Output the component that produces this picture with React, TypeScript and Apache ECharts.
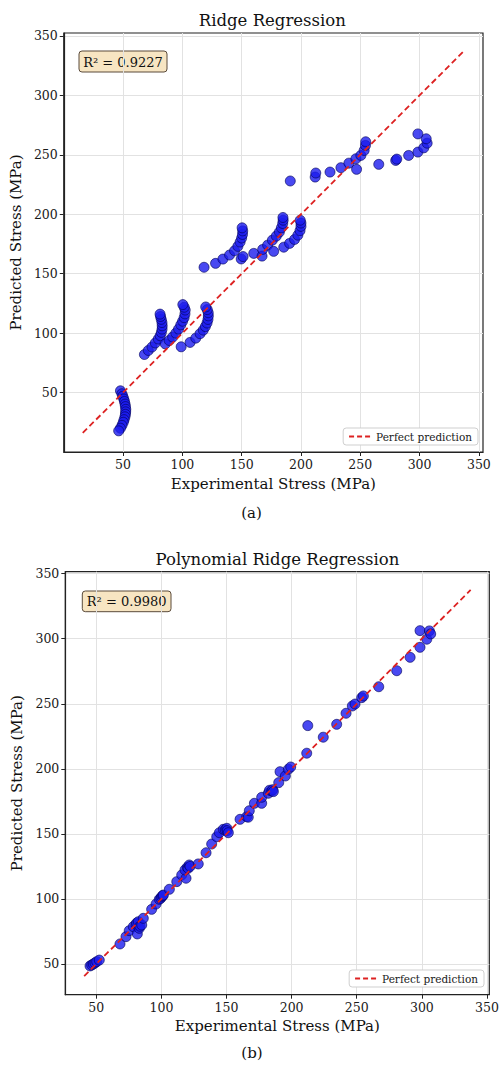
import React, { useEffect, useRef } from "react";
import * as echarts from "echarts";

// ---------- Data ----------
const ridgeActual = [
  47.8, 49.0, 49.8, 50.6, 51.2, 51.7, 52.0, 52.3, 52.2, 52.0, 51.6, 50.9, 50.2, 49.1, 47.8, 46.3,
  68.0, 71.3, 74.4, 77.2, 79.7, 81.3, 82.3, 82.9, 83.0, 82.8, 82.2, 81.6, 81.2,
  85.6, 88.9, 91.8, 94.5, 96.8, 98.7, 100.2, 101.5, 102.2, 102.4, 101.6, 100.4, 99.0,
  106.5, 111.3, 114.9, 117.6, 119.4, 120.8, 121.6, 121.9, 121.8, 121.0, 119.7,
  118.3, 128.0, 134.2, 139.8, 144.0, 146.8, 148.7, 150.0, 150.7, 150.9, 150.4, 149.6, 151.2,
  160.2, 167.2, 167.7, 171.9, 177.0, 175.9, 179.2, 181.8, 183.5, 184.6, 185.0, 184.8,
  185.5, 190.4, 194.6, 197.4, 199.2, 200.0, 200.0, 199.4, 191.0,
  212.0, 212.5, 224.5, 233.7, 240.4, 246.9, 246.3, 250.5, 253.3, 254.4, 254.6, 265.6, 279.9, 280.8,
  290.8, 298.6, 303.6, 306.4, 305.6, 298.6,
];
const ridgePredicted = [
  51.5, 49.0, 46.9, 44.6, 42.5, 40.3, 38.2, 35.9, 33.8, 31.7, 29.6, 27.2, 25.0, 22.4, 20.0, 17.8,
  82.0, 85.4, 88.3, 91.7, 95.0, 97.8, 100.6, 103.4, 106.2, 108.9, 111.6, 114.0, 116.0,
  91.0, 93.8, 96.7, 100.0, 103.4, 107.0, 110.0, 113.0, 116.2, 119.4, 121.8, 124.0, 88.5,
  92.2, 95.8, 99.5, 102.5, 105.5, 108.5, 111.5, 114.5, 117.2, 119.8, 122.0,
  155.4, 158.7, 162.3, 165.7, 169.3, 173.0, 176.6, 180.0, 183.0, 186.0, 188.6, 162.4, 164.4,
  167.1, 164.8, 170.4, 174.0, 168.8, 178.2, 181.6, 185.0, 188.6, 192.2, 195.0, 197.3,
  172.3, 175.5, 178.8, 182.4, 186.2, 189.8, 192.6, 195.0, 228.0,
  231.3, 234.7, 235.5, 239.2, 243.0, 237.8, 246.7, 249.5, 253.7, 257.9, 261.0, 242.0, 245.3, 246.4,
  249.5, 252.3, 255.9, 259.8, 263.5, 267.6,
];

const polyActual = [
  45.2, 46.5, 47.7, 49.0, 50.3, 52.3,
  68.2, 72.8, 75.3, 78.4, 80.5, 81.0, 82.3, 81.5, 83.0, 83.5, 84.9, 86.1,
  92.5, 95.9, 98.4, 99.5, 100.2, 101.0, 101.5, 106.1,
  111.8, 115.6, 118.9, 118.1, 119.9, 120.5, 121.4, 122.0, 128.3,
  134.3, 138.6, 142.5, 144.5, 147.5, 149.0, 150.2, 150.5, 151.4,
  160.4, 165.5, 166.7, 167.5, 171.4, 177.0, 177.0, 182.1, 183.0, 184.7, 185.5, 186.0,
  190.1, 191.1, 195.2, 197.5, 199.3,
  211.6, 212.4, 224.3, 234.6, 241.8, 246.6, 248.7, 253.8, 255.1, 266.9, 280.7, 291.0, 298.6, 298.6,
  303.8, 305.8, 306.8,
];
const polyPredicted = [
  48.5, 49.2, 50.0, 50.8, 51.8, 53.0,
  65.4, 71.0, 75.6, 78.7, 80.5, 81.5, 82.5, 73.1, 77.4, 79.0, 80.0, 85.1,
  92.0, 96.1, 99.7, 100.5, 101.7, 102.5, 103.0, 107.4,
  113.3, 118.4, 115.9, 122.3, 124.3, 123.5, 126.1, 125.0, 126.9,
  135.5, 142.2, 147.8, 150.9, 153.5, 153.0, 154.3, 152.5, 150.9,
  161.2, 163.2, 162.8, 167.8, 173.5, 173.5, 178.1, 181.2, 183.5, 183.0, 184.0, 182.5,
  189.4, 197.8, 194.5, 199.7, 201.4,
  212.0, 233.2, 224.3, 234.2, 242.7, 248.3, 249.8, 254.7, 256.0, 263.1, 275.4, 285.7, 293.4, 306.2,
  299.6, 306.0, 303.7,
];

const tickValues = [50, 100, 150, 200, 250, 300, 350];
const chartTitles = ["Ridge Regression", "Polynomial Ridge Regression"];
const r2Labels = ["R\u00b2 = 0.9227", "R\u00b2 = 0.9980"];
const captions = ["(a)", "(b)"];
const xAxisName = "Experimental Stress (MPa)";
const yAxisName = "Predicted Stress (MPa)";
const legendName = "Perfect prediction";

const FONT = "'DejaVu Serif', 'Liberation Serif', serif";

function zip(a: number[], b: number[]): number[][] {
  const n = Math.min(a.length, b.length);
  const out: number[][] = [];
  for (let i = 0; i < n; i++) out.push([a[i], b[i]]);
  return out;
}

function diagonal(a: number[], b: number[]): number[][] {
  const lo = Math.min(...a, ...b) * 0.9;
  const hi = Math.max(...a, ...b) * 1.1;
  return [
    [lo, lo],
    [hi, hi],
  ];
}

function makeAxis(gridIndex: number, min: number, max: number, isY: boolean) {
  return {
    type: "value",
    gridIndex,
    min,
    max,
    name: isY ? yAxisName : xAxisName,
    nameLocation: "middle",
    nameGap: isY ? 38 : 24,
    nameTextStyle: {
      fontFamily: FONT,
      fontSize: 15,
      color: "#111",
      verticalAlign: isY ? "bottom" : "top",
    },
    axisLine: { show: true, onZero: false, lineStyle: { color: "#222", width: 1.2 } },
    axisTick: {
      show: true,
      inside: false,
      length: 4,
      customValues: tickValues,
      lineStyle: { color: "#222", width: 1 },
    },
    axisLabel: {
      fontFamily: FONT,
      fontSize: 12.5,
      color: "#1a1a1a",
      margin: 6,
      customValues: tickValues,
      formatter: (v: number) => String(Math.round(v)),
    },
    splitLine: { show: true, lineStyle: { color: "#e2e2e2", width: 1 } },
  };
}

const scatterStyle = {
  color: "rgb(28,28,238)",
  opacity: 0.8,
  borderColor: "#00005a",
  borderWidth: 0.8,
};

const lineStyle = { color: "#dd2222", width: 1.8, type: [6, 3.5] };

function legendBox(right: number, top: number) {
  return {
    data: [legendName],
    right,
    top,
    orient: "horizontal",
    padding: [3, 6, 3, 5],
    itemWidth: 22,
    itemHeight: 8,
    itemGap: 6,
    backgroundColor: "#ffffff",
    borderColor: "#cfcfcf",
    borderWidth: 1,
    borderRadius: 3,
    itemStyle: { color: "rgba(0,0,0,0)", borderWidth: 0, opacity: 0 },
    lineStyle: { color: lineStyle.color, width: 1.8, type: [5, 3], opacity: 1 },
    textStyle: { fontFamily: FONT, fontSize: 10.5, color: "#1a1a1a" },
    selectedMode: false,
  };
}

function r2Box(x: number, y: number, w: number, h: number, label: string) {
  return {
    type: "group",
    x,
    y,
    children: [
      {
        type: "rect",
        shape: { x: 0, y: 0, width: w, height: h, r: 3 },
        style: { fill: "rgba(245,222,179,0.8)", stroke: "#5b4b3b", lineWidth: 1 },
      },
      {
        type: "text",
        x: w / 2,
        y: h / 2 + 0.5,
        style: {
          text: label,
          font: `13px ${FONT}`,
          fill: "#111",
          textAlign: "center",
          textVerticalAlign: "middle",
        },
      },
    ],
  };
}

function centerText(x: number, y: number, text: string, size: number) {
  return {
    type: "text",
    x,
    y,
    style: {
      text,
      font: `${size}px ${FONT}`,
      fill: "#111",
      textAlign: "center",
      textVerticalAlign: "middle",
    },
  };
}

export default function App() {
  const ref = useRef<HTMLDivElement>(null);

  useEffect(() => {
    if (!ref.current) return;
    const chart = echarts.init(ref.current, undefined, { renderer: "svg" });

    const option = {
      animation: false,
      backgroundColor: "#ffffff",
      grid: [
        {
          left: 62,
          top: 33,
          width: 421,
          height: 419,
          show: true,
          borderColor: "#222",
          borderWidth: 1.2,
          backgroundColor: "transparent",
        },
        {
          left: 65.3,
          top: 571.7,
          width: 424,
          height: 423,
          show: true,
          borderColor: "#222",
          borderWidth: 1.2,
          backgroundColor: "transparent",
        },
      ],
      xAxis: [makeAxis(0, 0, 353.5, false), makeAxis(1, 26.2, 351.8, false)],
      yAxis: [makeAxis(0, 0, 352.5, true), makeAxis(1, 26.4, 351.5, true)],
      legend: [legendBox(26, 428), legendBox(20, 970)],
      series: [
        {
          type: "scatter",
          name: "Ridge",
          xAxisIndex: 0,
          yAxisIndex: 0,
          data: zip(ridgeActual, ridgePredicted),
          symbol: "circle",
          symbolSize: 10,
          itemStyle: scatterStyle,
          z: 2,
        },
        {
          type: "line",
          name: legendName,
          xAxisIndex: 0,
          yAxisIndex: 0,
          data: diagonal(ridgeActual, ridgePredicted),
          symbol: "none",
          showSymbol: false,
          lineStyle,
          itemStyle: { color: lineStyle.color },
          z: 3,
          silent: true,
        },
        {
          type: "scatter",
          name: "Polynomial Ridge",
          xAxisIndex: 1,
          yAxisIndex: 1,
          data: zip(polyActual, polyPredicted),
          symbol: "circle",
          symbolSize: 10,
          itemStyle: scatterStyle,
          z: 2,
        },
        {
          type: "line",
          name: legendName,
          xAxisIndex: 1,
          yAxisIndex: 1,
          data: diagonal(polyActual, polyPredicted),
          symbol: "none",
          showSymbol: false,
          lineStyle,
          itemStyle: { color: lineStyle.color },
          z: 3,
          silent: true,
        },
      ],
      graphic: [
        centerText(272.3, 20, chartTitles[0], 16.5),
        centerText(277.5, 559.5, chartTitles[1], 16.5),
        r2Box(79, 51, 88, 21, r2Labels[0]),
        r2Box(82.3, 591, 88.7, 20.7, r2Labels[1]),
        centerText(251.5, 513, captions[0], 15),
        centerText(252, 1053, captions[1], 15),
      ],
    };

    chart.setOption(option as any);
    return () => {
      chart.dispose();
    };
  }, []);

  return (
    <div
      ref={ref}
      style={{ position: "absolute", left: 0, top: 0, width: 504, height: 1068, background: "#fff" }}
    />
  );
}
